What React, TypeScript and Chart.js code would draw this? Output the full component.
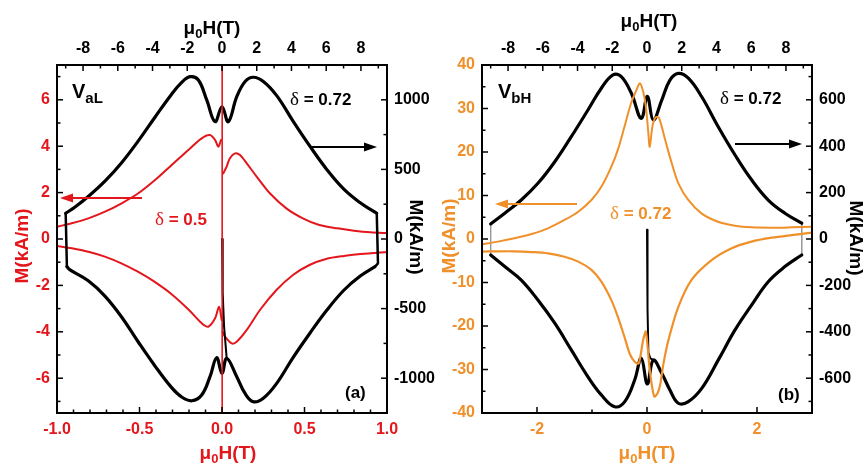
import React, { useEffect, useRef } from "react";
import { Chart, registerables } from "chart.js";
Chart.register(...registerables);

const RED = "#e3161c";
const ORANGE = "#f0902a";
const BLACK = "#000000";
const FONT = "'Liberation Sans', Arial, sans-serif";
const SERIF = "'Liberation Serif', 'DejaVu Serif', serif";

// ---------- Panel (a) data ----------
// black loop: top axis mu0H (T) vs right axis M (kA/m)
const A_BLACK_UP_H = [-9.0, -8.46, -7.7, -6.74, -5.78, -4.82, -3.86, -2.9, -2.32, -1.84, -1.36, -0.88, -0.4, 0.0, 0.36, 0.85, 1.32, 1.8, 2.38, 3.15, 4.1, 5.07, 6.03, 7.0, 7.94, 8.71, 8.91];
const A_BLACK_UP_M = [185, 230, 305, 415, 548, 705, 875, 1040, 1125, 1166, 1142, 999, 843, 950, 843, 1022, 1130, 1162, 1132, 1030, 845, 665, 500, 360, 262, 200, 185];
const A_BLACK_LO_H = [-8.93, -8.75, -7.7, -6.74, -5.78, -4.82, -3.86, -2.9, -2.32, -1.74, -1.17, -0.69, -0.31, 0.0, 0.27, 0.85, 1.32, 1.8, 2.38, 3.15, 4.1, 5.07, 6.03, 7.0, 7.94, 8.81];
const A_BLACK_LO_M = [-199, -222, -300, -410, -560, -740, -912, -1068, -1135, -1162, -1121, -989, -853, -965, -857, -989, -1108, -1169, -1144, -1037, -850, -675, -512, -370, -268, -199];
const A_BLACK_LEFT_H = [-9.0, -8.93];
const A_BLACK_LEFT_M = [185, -199];
const A_BLACK_RIGHT_H = [8.91, 8.98, 8.81];
const A_BLACK_RIGHT_M = [185, -175, -199];
const A_BLACK_SPIKE_H = [0.0, 0.04, 0.12, 0.23, 0.27];
const A_BLACK_SPIKE_M = [0, -390, -630, -797, -857];
// red loop: bottom axis mu0H (T) vs left axis M (kA/m)
const A_RED_UL_H = [-1.0, -0.911, -0.81, -0.709, -0.608, -0.507, -0.406, -0.305, -0.204, -0.123, -0.073, -0.042, -0.022, -0.006];
const A_RED_UL_M = [0.53, 0.68, 0.89, 1.18, 1.54, 1.97, 2.54, 3.19, 3.84, 4.34, 4.48, 4.27, 3.98, 4.27];
const A_RED_UR_H = [0.008, 0.028, 0.048, 0.079, 0.109, 0.15, 0.21, 0.29, 0.39, 0.49, 0.59, 0.7, 0.8, 0.9, 1.01];
const A_RED_UR_M = [2.83, 3.12, 3.48, 3.69, 3.62, 3.26, 2.69, 1.97, 1.32, 0.89, 0.6, 0.46, 0.36, 0.29, 0.25];
const A_RED_LL_H = [-1.0, -0.91, -0.81, -0.71, -0.61, -0.51, -0.41, -0.3, -0.2, -0.123, -0.083, -0.042, -0.018, -0.002];
const A_RED_LL_M = [-0.3, -0.4, -0.55, -0.76, -1.05, -1.41, -1.84, -2.41, -3.06, -3.63, -3.78, -3.42, -2.92, -3.49];
const A_RED_LR_H = [0.003, 0.018, 0.059, 0.089, 0.15, 0.23, 0.33, 0.43, 0.53, 0.63, 0.74, 0.84, 0.94, 1.01];
const A_RED_LR_M = [-4.0, -4.21, -4.5, -4.43, -3.92, -3.06, -2.2, -1.55, -1.12, -0.86, -0.73, -0.65, -0.59, -0.56];
const A_RED_SPIKE_H = [0.001, 0.001];
const A_RED_SPIKE_M = [7.8, -7.8];

// ---------- Panel (b) data ----------
const B_BLACK_UP_H = [-9.0, -8.19, -7.24, -6.28, -5.31, -4.36, -3.4, -2.63, -1.96, -1.48, -0.9, -0.33, 0.02, 0.36, 0.85, 1.32, 1.8, 2.38, 3.15, 4.1, 5.07, 6.03, 6.98, 7.94, 8.91];
const B_BLACK_UP_M = [65, 111, 168, 240, 333, 441, 556, 650, 707, 700, 628, 520, 615, 513, 599, 685, 714, 693, 613, 484, 362, 254, 168, 111, 68];
const B_BLACK_LO_H = [-9.0, -8.19, -7.24, -6.28, -5.31, -4.36, -3.4, -2.63, -1.86, -1.28, -0.71, -0.33, 0.02, 0.36, 0.85, 1.32, 1.8, 2.38, 3.15, 4.1, 5.07, 6.03, 6.98, 7.94, 8.91];
const B_BLACK_LO_M = [-69, -119, -177, -263, -363, -478, -594, -672, -723, -701, -608, -514, -625, -522, -579, -651, -708, -701, -644, -522, -392, -284, -184, -119, -69];
const B_BLACK_SPIKE_H = [0.0, 0.03, 0.08, 0.2, 0.36];
const B_BLACK_SPIKE_M = [40, -300, -490, -515, -522];
const B_GRAY_LEFT_H = [-9.0, -9.0];
const B_GRAY_LEFT_M = [65, -69];
const B_GRAY_RIGHT_H = [8.91, 8.91];
const B_GRAY_RIGHT_M = [68, -69];
const B_OR_UP_H = [-3.0, -2.71, -2.41, -2.1, -1.8, -1.5, -1.25, -1.01, -0.83, -0.65, -0.53, -0.41, -0.29, -0.19, -0.13, -0.07, -0.02, 0.02, 0.05, 0.1, 0.16, 0.22, 0.33, 0.45, 0.57, 0.75, 0.99, 1.29, 1.6, 1.9, 2.27, 2.63, 3.0];
const B_OR_UP_M = [-1.2, -0.6, 0.16, 1.15, 2.46, 4.37, 6.28, 8.97, 12.0, 16.6, 20.5, 25.8, 31.2, 34.3, 35.8, 33.9, 30.4, 25.0, 21.2, 26.0, 28.0, 27.8, 22.8, 17.4, 12.8, 8.97, 5.9, 3.98, 3.06, 2.69, 2.6, 2.69, 2.83];
const B_OR_LO_H = [-3.0, -2.71, -2.41, -2.1, -1.8, -1.5, -1.25, -1.01, -0.83, -0.65, -0.53, -0.41, -0.31, -0.22, -0.15, -0.07, -0.02, 0.05, 0.13, 0.19, 0.24, 0.3, 0.39, 0.57, 0.81, 1.18, 1.54, 1.9, 2.27, 2.63, 3.0];
const B_OR_LO_M = [-2.9, -2.83, -2.83, -3.0, -3.3, -4.07, -5.2, -7.1, -9.8, -14.0, -17.9, -22.5, -26.5, -28.3, -28.6, -23.2, -21.3, -30.1, -36.2, -35.5, -33.5, -28.6, -23.2, -15.6, -9.4, -4.8, -2.1, -0.6, 0.3, 0.9, 1.45];

// ---------- ticks ----------
const TOP_MAJOR = [-8, -6, -4, -2, 0, 2, 4, 6, 8];
const TOP_MINOR = [-9, -7, -5, -3, -1, 1, 3, 5, 7, 9];
const A_BOTTOM_MAJOR = [-1, -0.5, 0, 0.5, 1];
const A_BOTTOM_MINOR = [-0.9, -0.8, -0.7, -0.6, -0.4, -0.3, -0.2, -0.1, 0.1, 0.2, 0.3, 0.4, 0.6, 0.7, 0.8, 0.9];
const A_LEFT_MAJOR = [-6, -4, -2, 0, 2, 4, 6];
const A_LEFT_MINOR = [-7, -5, -3, -1, 1, 3, 5, 7];
const A_RIGHT_MAJOR = [-1000, -500, 0, 500, 1000];
const A_RIGHT_MINOR = [-750, -250, 250, 750];
const B_BOTTOM_MAJOR = [-2, 0, 2];
const B_BOTTOM_MINOR = [-1, 1];
const B_LEFT_MAJOR = [-40, -30, -20, -10, 0, 10, 20, 30, 40];
const B_LEFT_MINOR = [-35, -25, -15, -5, 5, 15, 25, 35];
const B_RIGHT_MAJOR = [-600, -400, -200, 0, 200, 400, 600];
const B_RIGHT_MINOR = [-700, -500, -300, -100, 100, 300, 500, 700];

const W = 866;
const H = 464;

function pts(h: number[], m: number[]) {
  return h.map((x, i) => ({ x, y: m[i] }));
}

function ds(data: any[], color: string, width: number, xID: string, yID: string, tension = 0.4) {
  return {
    data,
    borderColor: color,
    backgroundColor: color,
    borderWidth: width,
    showLine: true,
    pointRadius: 0,
    pointHoverRadius: 0,
    fill: false,
    tension,
    xAxisID: xID,
    yAxisID: yID,
    clip: 0,
    borderCapStyle: "round",
    borderJoinStyle: "round",
  };
}

function axis(pos: string, min: number, max: number, major: number[], color: string, size: number, fmt: (v: number) => string) {
  return {
    type: "linear",
    position: pos,
    min,
    max,
    afterBuildTicks: (s: any) => {
      s.ticks = major.map((v) => ({ value: v }));
    },
    afterFit: (s: any) => {
      if (pos === "left" || pos === "right") s.width = size;
      else s.height = size;
    },
    ticks: {
      color,
      font: { family: FONT, size: 16, weight: "bold" },
      padding: 7,
      autoSkip: false,
      maxRotation: 0,
      minRotation: 0,
      callback: (v: any) => fmt(Number(v)),
    },
    grid: { display: false, drawTicks: false },
    border: { display: false },
    title: { display: false },
  };
}

type Seg = { t: string; s: number; dy?: number; w?: string; f?: string };
type TextItem = { segs: Seg[]; x: number; y: number; color: string; align?: string; rot?: number };
type ArrowItem = { x1: number; x2: number; y: number; color: string };
type TickSpec = { id: string; major: number[]; minor: number[] };

function rich(ctx: CanvasRenderingContext2D, item: TextItem) {
  const { segs, x, y, color, align = "left", rot = 0 } = item;
  ctx.save();
  ctx.translate(x, y);
  ctx.rotate(rot);
  ctx.fillStyle = color;
  ctx.textBaseline = "alphabetic";
  ctx.textAlign = "left";
  const fonts = segs.map((g) => `${g.w ?? "bold"} ${g.s}px ${g.f ?? FONT}`);
  const widths = segs.map((g, i) => {
    ctx.font = fonts[i];
    return ctx.measureText(g.t).width;
  });
  const total = widths.reduce((a, b) => a + b, 0);
  let cx = align === "center" ? -total / 2 : 0;
  const base = 0.36 * Math.max(...segs.map((g) => g.s));
  segs.forEach((g, i) => {
    ctx.font = fonts[i];
    ctx.fillText(g.t, cx, base + (g.dy ?? 0));
    cx += widths[i];
  });
  ctx.restore();
}

function arrow(ctx: CanvasRenderingContext2D, a: ArrowItem) {
  const dir = a.x2 > a.x1 ? 1 : -1;
  const head = 13;
  ctx.save();
  ctx.strokeStyle = a.color;
  ctx.fillStyle = a.color;
  ctx.lineWidth = 2;
  ctx.beginPath();
  ctx.moveTo(a.x1, a.y);
  ctx.lineTo(a.x2 - dir * head, a.y);
  ctx.stroke();
  ctx.beginPath();
  ctx.moveTo(a.x2, a.y);
  ctx.lineTo(a.x2 - dir * head, a.y - 4.5);
  ctx.lineTo(a.x2 - dir * head, a.y + 4.5);
  ctx.closePath();
  ctx.fill();
  ctx.restore();
}

function decor(ticks: TickSpec[], texts: TextItem[], arrows: ArrowItem[]) {
  return {
    id: "decor",
    afterDraw(chart: any) {
      const ctx: CanvasRenderingContext2D = chart.ctx;
      const { left, right, top, bottom } = chart.chartArea;
      ctx.save();
      ctx.strokeStyle = "#000";
      ctx.lineWidth = 1.5;
      for (const t of ticks) {
        const s = chart.scales[t.id];
        const pos = s.options.position;
        const groups: [number[], number][] = [
          [t.major, 6],
          [t.minor, 3.5],
        ];
        for (const [vals, len] of groups) {
          for (const v of vals) {
            const p = s.getPixelForValue(v);
            ctx.beginPath();
            if (pos === "bottom") {
              ctx.moveTo(p, bottom);
              ctx.lineTo(p, bottom - len);
            } else if (pos === "top") {
              ctx.moveTo(p, top);
              ctx.lineTo(p, top + len);
            } else if (pos === "left") {
              ctx.moveTo(left, p);
              ctx.lineTo(left + len, p);
            } else {
              ctx.moveTo(right, p);
              ctx.lineTo(right - len, p);
            }
            ctx.stroke();
          }
        }
      }
      ctx.lineWidth = 2;
      ctx.strokeRect(left, top, right - left, bottom - top);
      ctx.restore();
      for (const a of arrows) arrow(ctx, a);
      for (const t of texts) rich(ctx, t);
    },
  };
}

const mu = (c: string, x: number, y: number): TextItem => ({
  segs: [
    { t: "μ", s: 19 },
    { t: "0", s: 13, dy: 4 },
    { t: "H(T)", s: 19 },
  ],
  x,
  y,
  color: c,
  align: "center",
});
const mlab = (c: string, x: number, y: number, rot: number): TextItem => ({
  segs: [{ t: "M(kA/m)", s: 19 }],
  x,
  y,
  color: c,
  align: "center",
  rot,
});
const delta = (c: string, x: number, y: number, val: string): TextItem => ({
  segs: [
    { t: "δ", s: 19, w: "normal", f: SERIF },
    { t: " = " + val, s: 17 },
  ],
  x,
  y,
  color: c,
});
const vlab = (sub: string, x: number): TextItem => ({
  segs: [
    { t: "V", s: 20 },
    { t: sub, s: 15, dy: 5 },
  ],
  x,
  y: 91,
  color: BLACK,
});

const fmtInt = (v: number) => String(v);
const fmtOne = (v: number) => v.toFixed(1);

function baseOptions(scales: any) {
  return {
    animation: false,
    responsive: false,
    devicePixelRatio: 1,
    layout: { padding: 0 },
    plugins: { legend: { display: false }, tooltip: { enabled: false } },
    events: [],
    scales,
  };
}

function configA() {
  const datasets = [
    ds(pts(A_RED_SPIKE_H, A_RED_SPIKE_M), RED, 1.6, "x", "yL", 0),
    ds(pts(A_BLACK_SPIKE_H, A_BLACK_SPIKE_M), BLACK, 2, "xT", "yR", 0),
    ds(pts(A_BLACK_UP_H, A_BLACK_UP_M), BLACK, 3.2, "xT", "yR"),
    ds(pts(A_BLACK_LO_H, A_BLACK_LO_M), BLACK, 3.2, "xT", "yR"),
    ds(pts(A_BLACK_LEFT_H, A_BLACK_LEFT_M), BLACK, 2.5, "xT", "yR", 0),
    ds(pts(A_BLACK_RIGHT_H, A_BLACK_RIGHT_M), BLACK, 2.5, "xT", "yR", 0),
    ds(pts(A_RED_UL_H, A_RED_UL_M), RED, 2, "x", "yL", 0.3),
    ds(pts(A_RED_UR_H, A_RED_UR_M), RED, 2, "x", "yL", 0.3),
    ds(pts(A_RED_LL_H, A_RED_LL_M), RED, 2, "x", "yL", 0.3),
    ds(pts(A_RED_LR_H, A_RED_LR_M), RED, 2, "x", "yL", 0.3),
  ];
  const ticks: TickSpec[] = [
    { id: "x", major: A_BOTTOM_MAJOR, minor: A_BOTTOM_MINOR },
    { id: "xT", major: TOP_MAJOR, minor: TOP_MINOR },
    { id: "yL", major: A_LEFT_MAJOR, minor: A_LEFT_MINOR },
    { id: "yR", major: A_RIGHT_MAJOR, minor: A_RIGHT_MINOR },
  ];
  const texts: TextItem[] = [
    mu(RED, 228, 452),
    mu(BLACK, 212, 27),
    mlab(RED, 21.5, 246, -Math.PI / 2),
    mlab(BLACK, 417, 237, Math.PI / 2),
    vlab("aL", 72),
    delta(BLACK, 290, 98, "0.72"),
    delta(RED, 155, 218, "0.5"),
    { segs: [{ t: "(a)", s: 17 }], x: 345, y: 392, color: BLACK },
  ];
  const arrows: ArrowItem[] = [
    { x1: 310, x2: 377, y: 147, color: BLACK },
    { x1: 142, x2: 60, y: 198, color: RED },
  ];
  return {
    type: "scatter",
    data: { datasets },
    options: baseOptions({
      x: axis("bottom", -1, 1, A_BOTTOM_MAJOR, RED, H - 413, fmtOne),
      xT: axis("top", -9.5, 9.5, TOP_MAJOR, BLACK, 65, fmtInt),
      yL: axis("left", -7.5, 7.5, A_LEFT_MAJOR, RED, 57, fmtInt),
      yR: axis("right", -1250, 1250, A_RIGHT_MAJOR, BLACK, W - 387, fmtInt),
    }),
    plugins: [decor(ticks, texts, arrows)],
  };
}

function configB() {
  const datasets = [
    ds(pts(B_OR_UP_H, B_OR_UP_M), ORANGE, 2, "x", "yL", 0.3),
    ds(pts(B_OR_LO_H, B_OR_LO_M), ORANGE, 2.2, "x", "yL", 0.3),
    ds(pts(B_BLACK_SPIKE_H, B_BLACK_SPIKE_M), BLACK, 2, "xT", "yR", 0),
    ds(pts(B_BLACK_UP_H, B_BLACK_UP_M), BLACK, 3.2, "xT", "yR"),
    ds(pts(B_BLACK_LO_H, B_BLACK_LO_M), BLACK, 3.2, "xT", "yR"),
    ds(pts(B_GRAY_LEFT_H, B_GRAY_LEFT_M), "#9a9a9a", 1, "xT", "yR", 0),
    ds(pts(B_GRAY_RIGHT_H, B_GRAY_RIGHT_M), "#9a9a9a", 1, "xT", "yR", 0),
  ];
  const ticks: TickSpec[] = [
    { id: "x", major: B_BOTTOM_MAJOR, minor: B_BOTTOM_MINOR },
    { id: "xT", major: TOP_MAJOR, minor: TOP_MINOR },
    { id: "yL", major: B_LEFT_MAJOR, minor: B_LEFT_MINOR },
    { id: "yR", major: B_RIGHT_MAJOR, minor: B_RIGHT_MINOR },
  ];
  const texts: TextItem[] = [
    mu(ORANGE, 647, 452),
    mu(BLACK, 649, 20),
    mlab(ORANGE, 448, 236, -Math.PI / 2),
    mlab(BLACK, 857, 238, Math.PI / 2),
    vlab("bH", 498),
    delta(BLACK, 720, 97, "0.72"),
    delta(ORANGE, 610, 212, "0.72"),
    { segs: [{ t: "(b)", s: 17 }], x: 778, y: 394, color: BLACK },
  ];
  const arrows: ArrowItem[] = [
    { x1: 735, x2: 802, y: 144, color: BLACK },
    { x1: 577, x2: 495, y: 204, color: ORANGE },
  ];
  return {
    type: "scatter",
    data: { datasets },
    options: baseOptions({
      x: axis("bottom", -3, 3, B_BOTTOM_MAJOR, ORANGE, H - 413, fmtInt),
      xT: axis("top", -9.5, 9.5, TOP_MAJOR, BLACK, 65, fmtInt),
      yL: axis("left", -40, 40, B_LEFT_MAJOR, ORANGE, 482, fmtInt),
      yR: axis("right", -750, 750, B_RIGHT_MAJOR, BLACK, W - 812, fmtInt),
    }),
    plugins: [decor(ticks, texts, arrows)],
  };
}

export default function App() {
  const refA = useRef<HTMLCanvasElement | null>(null);
  const refB = useRef<HTMLCanvasElement | null>(null);
  useEffect(() => {
    const a = new Chart(refA.current as HTMLCanvasElement, configA() as any);
    const b = new Chart(refB.current as HTMLCanvasElement, configB() as any);
    return () => {
      a.destroy();
      b.destroy();
    };
  }, []);
  const cs: React.CSSProperties = { position: "absolute", left: 0, top: 0, width: W, height: H };
  return (
    <div style={{ position: "absolute", left: 0, top: 0, width: W, height: H, background: "#fff" }}>
      <canvas ref={refA} width={W} height={H} style={cs} />
      <canvas ref={refB} width={W} height={H} style={cs} />
    </div>
  );
}
